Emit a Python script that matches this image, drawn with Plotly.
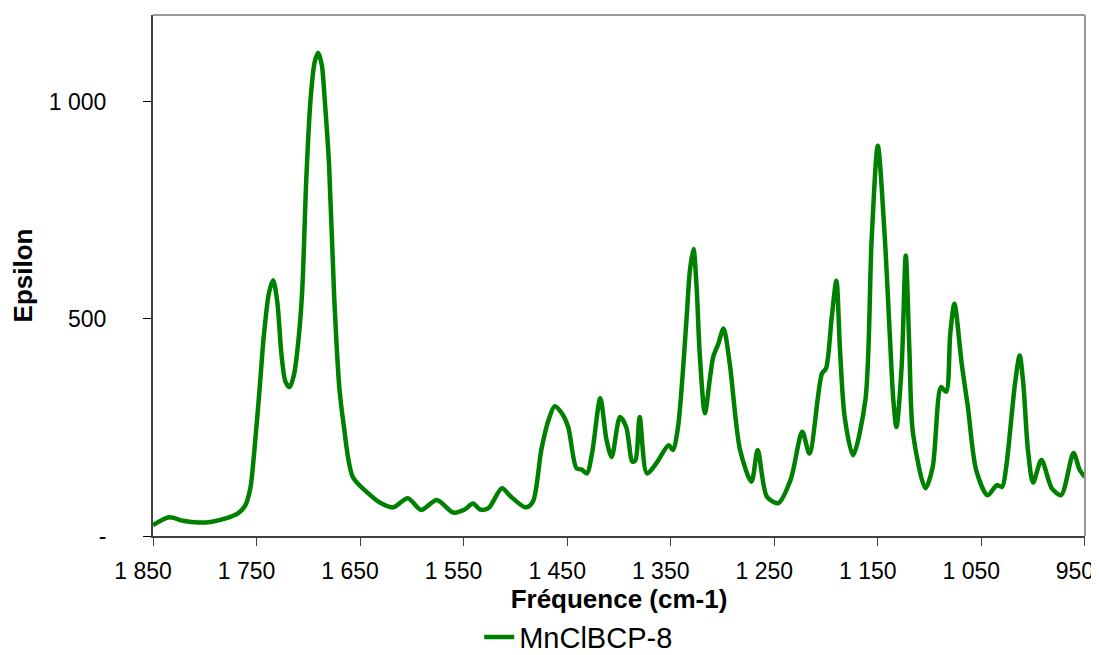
import plotly.graph_objects as go

# IR spectrum (wavenumber in cm-1, epsilon)
freq = [1850, 1834, 1821, 1806, 1793, 1779, 1768, 1761, 1756, 1752, 1747, 1743, 1738, 1734, 1730,
        1726, 1722, 1718, 1714, 1710, 1706, 1702, 1698, 1694, 1690.5, 1687, 1684, 1680, 1675,
        1670, 1666, 1657, 1642, 1631, 1618, 1604, 1591, 1576, 1560, 1549, 1541, 1534, 1526,
        1513, 1505, 1490, 1483, 1475, 1468, 1462, 1455, 1449, 1441, 1436, 1431, 1426, 1418,
        1412, 1407, 1399, 1393, 1387, 1384, 1380, 1373, 1364, 1352, 1348, 1343, 1335, 1331.5,
        1328, 1325, 1322, 1317, 1312, 1309, 1304, 1299, 1293, 1283, 1272, 1266, 1257, 1246,
        1234, 1223, 1216, 1204, 1200, 1194.5, 1190, 1186.5, 1182, 1174, 1162, 1156, 1150,
        1143.5, 1138.5, 1135, 1132, 1127, 1123, 1119.5, 1116, 1104, 1097, 1089, 1084, 1080,
        1076, 1069, 1063, 1055, 1044, 1035, 1030, 1026, 1017.5, 1013, 1009.5, 1005, 1000, 992,
        982, 973, 961, 955, 950]
epsilon = [25, 43, 35, 31, 33, 41, 52, 70, 110, 200, 340, 460, 560, 589, 540,
           420, 355, 343, 370, 440, 560, 820, 1000, 1090, 1113, 1085, 1000, 857, 550,
           340, 259, 136, 98, 77, 66, 87, 60, 83, 54, 61, 75, 61, 64,
           110, 92, 66, 80, 198, 267, 299, 282, 251, 156, 153, 144, 190, 317,
           221, 182, 274, 251, 171, 175, 274, 144, 167, 209, 198, 250, 490, 611,
           661, 573, 420, 283, 366, 412, 443, 478, 397, 198, 125, 198, 90, 76,
           131, 240, 190, 374, 386, 504, 588, 428, 274, 186, 313, 681, 899,
           697, 467, 313, 251, 389, 646, 428, 236, 110, 159, 343, 332, 467,
           535, 397, 297, 152, 94, 117, 113, 159, 351, 416, 351, 198, 123, 175,
           110, 94, 191, 152, 136]

x_ticks = [1850, 1750, 1650, 1550, 1450, 1350, 1250, 1150, 1050, 950]
x_labels = ["1 850", "1 750", "1 650", "1 550", "1 450", "1 350", "1 250", "1 150", "1 050", "950"]
y_ticks = [0, 500, 1000]
y_labels = ["-", "500", "1 000"]

font = "Liberation Sans, Arial, sans-serif"

fig = go.Figure(go.Scatter(
    x=freq, y=epsilon, mode="lines", name="MnClBCP-8",
    line=dict(color="#008000", width=4.5, shape="spline", smoothing=0.8),
))

# the page body adds an 8px margin, so the figure is 8px smaller than the window
fig.update_layout(
    width=1091, height=647,
    margin=dict(l=145, r=14, t=7, b=119, autoexpand=False),
    paper_bgcolor="white", plot_bgcolor="white",
    font=dict(family=font, size=23, color="black"),
    showlegend=True,
    legend=dict(orientation="h", x=0.35, xanchor="left", y=-0.194, yanchor="middle",
                font=dict(size=29), itemwidth=30),
    xaxis=dict(
        range=[1850, 949.9], tickvals=x_ticks, ticktext=x_labels,
        showgrid=False, zeroline=False, automargin=False, ticklabeloverflow="allow",
        showline=True, linecolor="#404040", linewidth=2,
        ticks="outside", ticklen=8, tickwidth=1, tickcolor="#404040",
        ticklabelstandoff=5, ticklabelshift=10,  # reversed axis: +10 moves labels left
        title=dict(text="<b>Fréquence (cm-1)</b>", font=dict(size=26), standoff=7),
    ),
    yaxis=dict(
        range=[0, 1200], tickvals=y_ticks, ticktext=y_labels,
        showgrid=False, zeroline=False, automargin=False,
        showline=True, linecolor="#404040", linewidth=2,
        ticks="outside", ticklen=8, tickwidth=1, tickcolor="black",
        ticklabelstandoff=32,
        title=dict(text="<b>Epsilon</b>", font=dict(size=26), standoff=10),
    ),
    # second y axis only to draw the inner half of the crossing ticks
    yaxis2=dict(
        range=[0, 1200], overlaying="y", side="left", tickvals=y_ticks,
        showticklabels=False, showgrid=False, zeroline=False, showline=False,
        ticks="inside", ticklen=8, tickwidth=1, tickcolor="black",
    ),
    shapes=[
        dict(type="line", xref="paper", yref="paper", x0=0, x1=1, y0=1, y1=1,
             line=dict(color="#999999", width=2)),
        dict(type="line", xref="paper", yref="paper", x0=1, x1=1, y0=0, y1=1,
             line=dict(color="#999999", width=2)),
    ],
)

fig.write_html("out.html")
